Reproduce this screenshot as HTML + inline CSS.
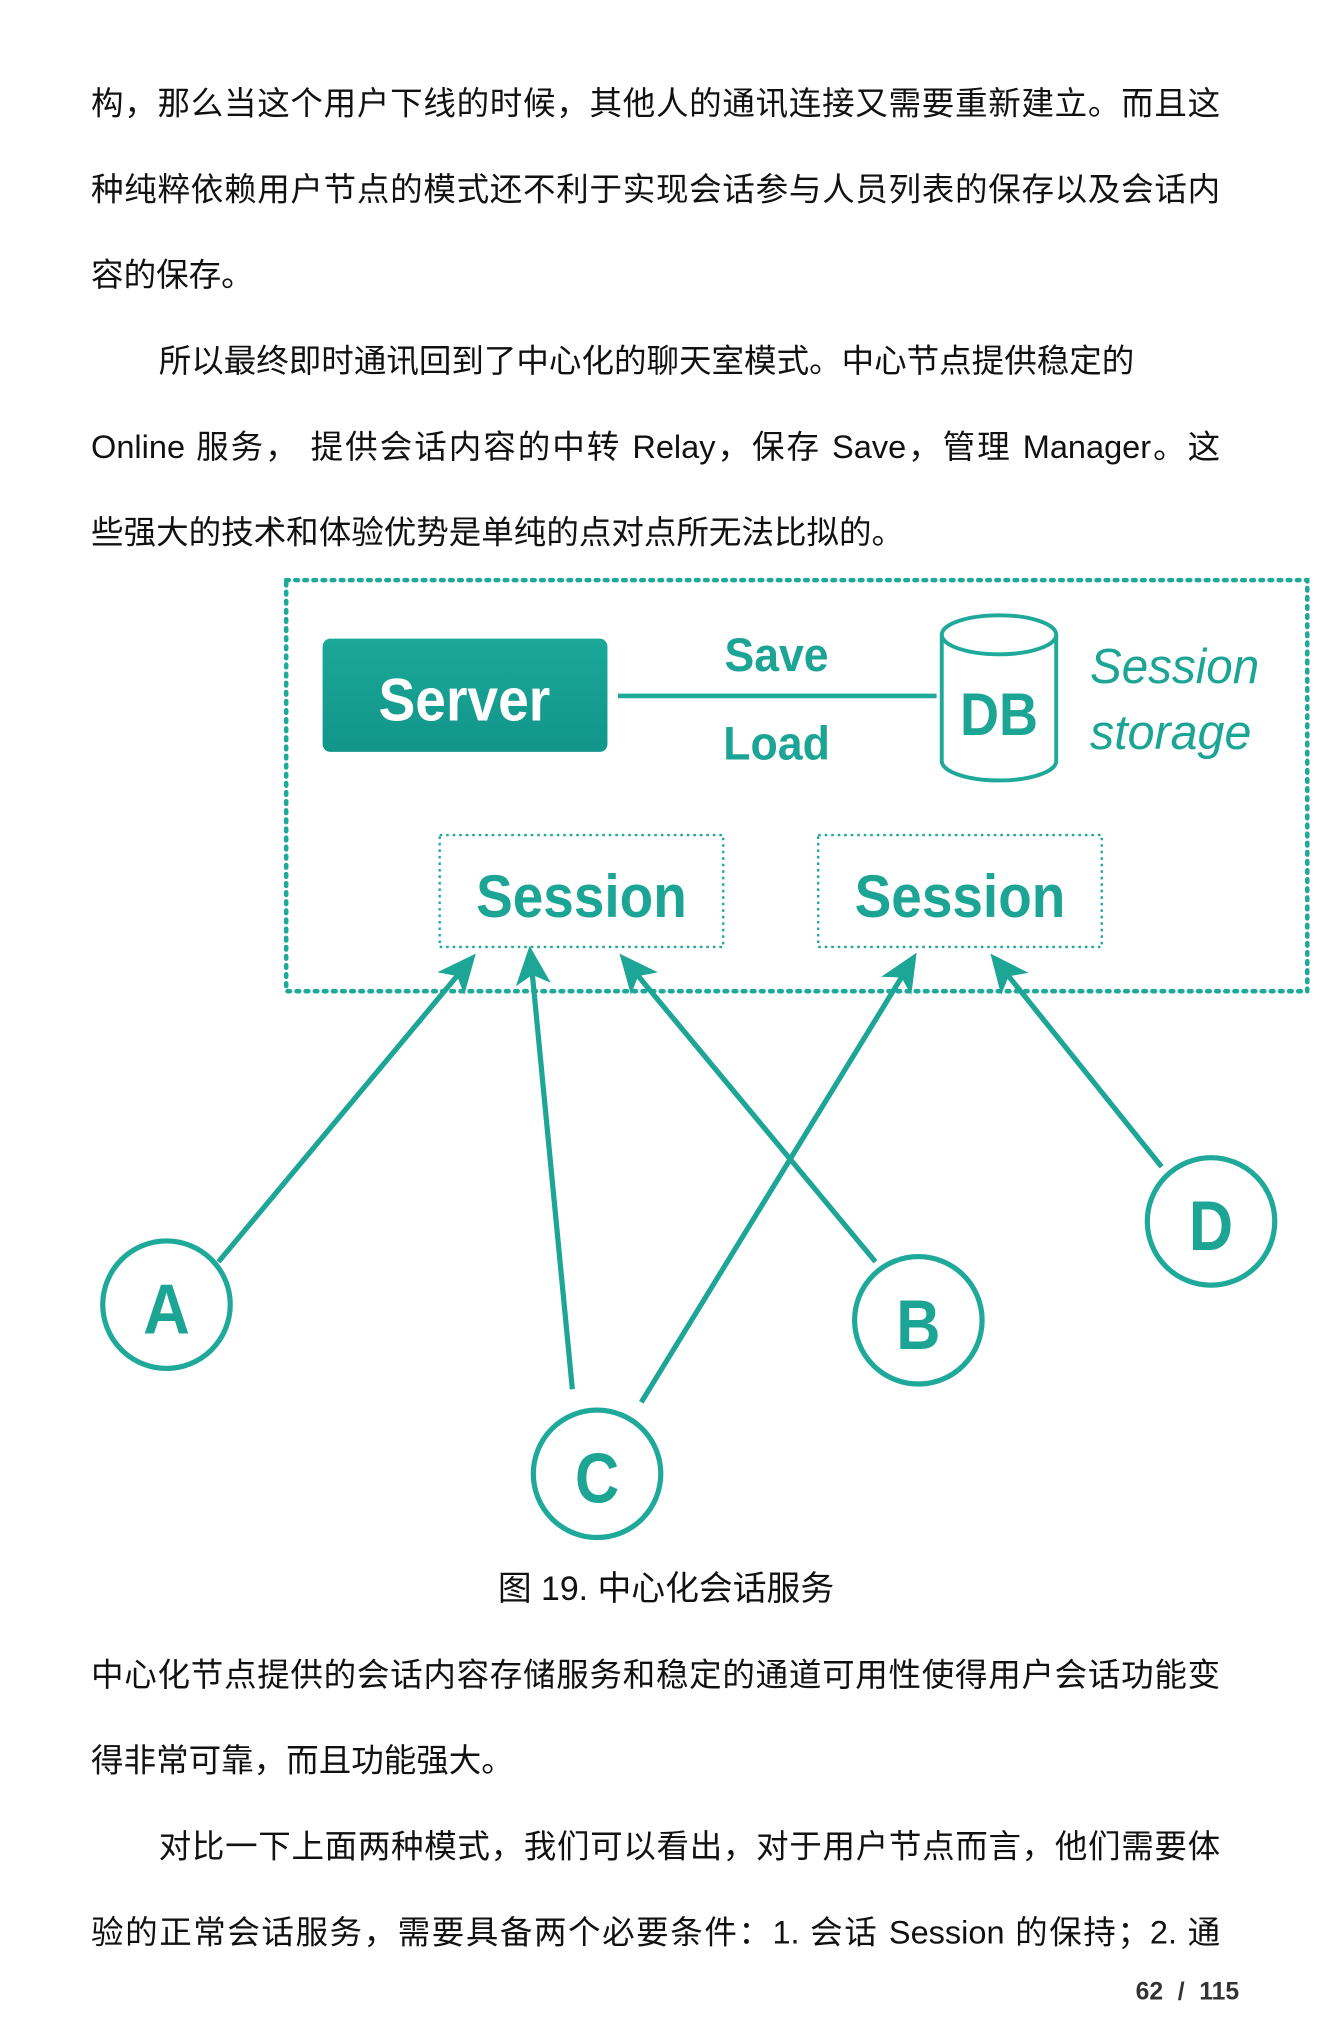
<!DOCTYPE html>
<html><head><meta charset="utf-8"><style>
html,body{margin:0;padding:0;background:#fff;}
body{width:1332px;height:2041px;overflow:hidden;position:relative;}
#w{position:absolute;left:0;top:0;width:1024px;height:1569px;transform:scale(1.30078);transform-origin:0 0;}
.l{position:absolute;left:70px;width:868px;font-family:"Liberation Sans","Noto Sans CJK SC",sans-serif;font-size:25px;line-height:32px;color:#111;white-space:nowrap;text-align:justify;text-align-last:justify;}
.nl{text-align-last:left;}
.ind{left:122px;width:816px;}
</style></head><body><div id="w">
<div class="l" style="top:64px">构，那么当这个用户下线的时候，其他人的通讯连接又需要重新建立。而且这</div>
<div class="l" style="top:130px">种纯粹依赖用户节点的模式还不利于实现会话参与人员列表的保存以及会话内</div>
<div class="l nl" style="top:196px">容的保存。</div>
<div class="l ind nl" style="top:262px">所以最终即时通讯回到了中心化的聊天室模式。中心节点提供稳定的</div>
<div class="l" style="top:328px">Online 服务， 提供会话内容的中转 Relay，保存 Save，管理 Manager。这</div>
<div class="l nl" style="top:394px">些强大的技术和体验优势是单纯的点对点所无法比拟的。</div>

<svg style="position:absolute;left:0;top:0" width="1024" height="1200" viewBox="0 0 1024 1200">
<defs>
<linearGradient id="g" x1="0" y1="0" x2="0" y2="1"><stop offset="0" stop-color="#1aa898"/><stop offset="1" stop-color="#12958a"/></linearGradient>
<marker id="ar" viewBox="0 0 20 20" refX="14" refY="10" markerWidth="30" markerHeight="30" orient="auto" markerUnits="userSpaceOnUse">
<path d="M0,1 L20,10 L0,19 L5,10 Z" fill="#1da596"/></marker>
</defs>
<g fill="none" stroke="#1fa99a">
<rect x="220" y="446" width="785" height="316" stroke-width="3.5" stroke-dasharray="2 5" stroke-linecap="round"/>
<rect x="338" y="642" width="218" height="86" stroke-width="1.8" stroke-dasharray="2 3"/>
<rect x="629" y="642" width="218" height="86" stroke-width="1.8" stroke-dasharray="2 3"/>
<line x1="475" y1="535" x2="720" y2="535" stroke-width="3.5"/>
<path d="M724,488 L724,585 A44,15 0 0 0 812,585 L812,488" stroke-width="3"/>
<ellipse cx="768" cy="488" rx="44" ry="15" stroke-width="3"/>
<g stroke-width="4">
<circle cx="128" cy="1003" r="49"/><circle cx="706" cy="1015" r="49"/>
<circle cx="459" cy="1133" r="49"/><circle cx="931" cy="939" r="49"/>
</g>
<g stroke-width="4" marker-end="url(#ar)" stroke="#1da596">
<line x1="168" y1="970" x2="360" y2="740"/>
<line x1="440" y1="1068" x2="408" y2="736"/>
<line x1="493" y1="1078" x2="700" y2="740"/>
<line x1="673" y1="970" x2="482" y2="740"/>
<line x1="893" y1="897" x2="767" y2="740"/>
</g>
</g>
<rect x="248" y="491" width="219" height="87" rx="6" fill="url(#g)"/>
<g font-family="Liberation Sans,sans-serif" font-weight="bold" fill="#1ca494" text-anchor="middle">
<text x="357" y="554" fill="#fff" font-size="46" textLength="132" lengthAdjust="spacingAndGlyphs">Server</text>
<text x="597" y="516" font-size="36" textLength="80" lengthAdjust="spacingAndGlyphs">Save</text>
<text x="597" y="584" font-size="36" textLength="82" lengthAdjust="spacingAndGlyphs">Load</text>
<text x="768" y="565" font-size="46" textLength="60" lengthAdjust="spacingAndGlyphs">DB</text>
<text x="447" y="705" font-size="46" textLength="162" lengthAdjust="spacingAndGlyphs">Session</text>
<text x="738" y="705" font-size="46" textLength="162" lengthAdjust="spacingAndGlyphs">Session</text>
<text x="128" y="1025" font-size="54" textLength="36" lengthAdjust="spacingAndGlyphs">A</text>
<text x="706" y="1037" font-size="54" textLength="34" lengthAdjust="spacingAndGlyphs">B</text>
<text x="459" y="1155" font-size="54" textLength="34" lengthAdjust="spacingAndGlyphs">C</text>
<text x="931" y="961" font-size="54" textLength="34" lengthAdjust="spacingAndGlyphs">D</text>
</g>
<g font-family="Liberation Sans,sans-serif" font-style="italic" fill="#1ca494" font-size="38">
<text x="838" y="525" textLength="130" lengthAdjust="spacingAndGlyphs">Session</text>
<text x="838" y="576" textLength="124" lengthAdjust="spacingAndGlyphs">storage</text>
</g>
</svg>

<div class="l nl" style="top:1205px;left:0;width:1024px;font-size:26px;text-align:center;text-align-last:center">图 19. 中心化会话服务</div>
<div class="l" style="top:1272px">中心化节点提供的会话内容存储服务和稳定的通道可用性使得用户会话功能变</div>
<div class="l nl" style="top:1338px">得非常可靠，而且功能强大。</div>
<div class="l ind" style="top:1404px">对比一下上面两种模式，我们可以看出，对于用户节点而言，他们需要体</div>
<div class="l" style="top:1470px">验的正常会话服务，需要具备两个必要条件：1. 会话 Session 的保持；2. 通</div>
<div style="position:absolute;left:873px;top:1521px;font-family:'Liberation Sans',sans-serif;font-weight:bold;font-size:19px;color:#333;word-spacing:6px">62 / 115</div>
</div></body></html>
